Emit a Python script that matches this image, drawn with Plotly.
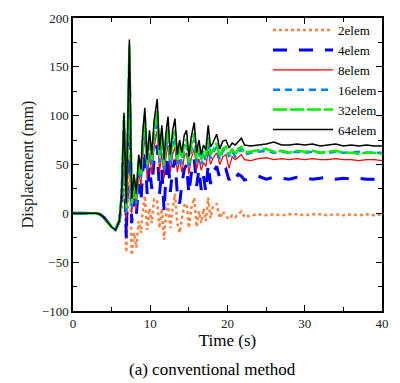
import plotly.graph_objects as go

time_s = [0, 1, 2, 3, 3.5, 4, 4.5, 5, 5.5, 6,
          6.3, 6.6, 6.9, 7.3, 7.6, 7.9,
          8.2, 8.5, 8.8, 9.0, 9.3, 9.6, 9.9,
          10.2, 10.5, 10.9, 11.2, 11.5, 11.8,
          12.0, 12.3, 12.6, 12.9, 13.2, 13.5, 13.8,
          14.1, 14.4, 14.7, 15.0, 15.3, 15.7,
          16.0, 16.3, 16.6, 16.9, 17.2, 17.5, 17.8,
          18.1, 18.6, 19.0, 19.4, 19.8,
          20.2, 20.6, 21.0, 21.4, 21.8, 22.2,
          23, 24, 25, 26, 27, 28, 29, 30, 31, 32, 33, 34, 35, 36, 37, 38, 39, 40]

start = [0, 0, 0, 0, -1, -4, -9, -14, -17, -8]

elem2 = start + [5, 40, -40, 60, -43, -20,
                 -35, -8, -20, 0, 18, -17, 5,
                 -10, 15, 12, -15, 5, -27,
                 -5, 10, -15, 5, 20, -10, -20,
                 -5, 8, 10, -15, 5, 16,
                 -14, 2, -10, 5, -8, 16, -5,
                 6, 10, -5, 2, -3,
                 -6, -2, -4, -1, 2, -4,
                 -2, -1, -2, -1, -2, -1, -1, -2, -1, -1, -2, -1, -2, -1, -2, -1, -2, -1]

elem4 = start + [12, 80, -25, 140, -10, 15,
                 -2, 30, 12, 40, 65, 20, 48,
                 25, 55, 70, 20, 45, 2,
                 35, 58, 22, 45, 55, 20, 10,
                 30, 45, 50, 20, 40, 55,
                 28, 45, 24, 38, 22, 50, 30,
                 42, 48, 36, 42, 45,
                 34, 40, 36, 40, 38, 34,
                 36, 38, 35, 37, 36, 35, 37, 36, 35, 36, 37, 35, 36, 35, 36, 35, 35, 36]

elem8 = start + [15, 90, -5, 150, 0, 25,
                 5, 42, 28, 55, 80, 35, 60,
                 40, 68, 85, 42, 62, 36,
                 56, 70, 42, 60, 68, 42, 55,
                 42, 58, 62, 40, 56, 66,
                 45, 56, 44, 52, 48, 64, 50,
                 56, 62, 50, 58, 60,
                 46, 58, 55, 58, 60, 55,
                 54, 56, 57, 55, 56, 55, 56, 55, 56, 55, 55, 56, 55, 55, 54, 55, 55, 54]

elem16 = start + [18, 95, 0, 160, 5, 30,
                  10, 50, 35, 65, 92, 45, 70,
                  50, 78, 96, 52, 72, 45,
                  66, 80, 50, 70, 78, 50, 64,
                  50, 66, 70, 48, 64, 76,
                  52, 63, 50, 60, 54, 72, 56,
                  62, 68, 55, 64, 66,
                  58, 64, 58, 62, 66, 60,
                  62, 63, 64, 62, 63, 62, 63, 62, 63, 62, 62, 63, 62, 62, 63, 62, 62, 62]

elem32 = start + [20, 100, 5, 172, 10, 35,
                  15, 55, 40, 72, 100, 50, 78,
                  55, 85, 105, 58, 80, 50,
                  72, 88, 55, 76, 85, 55, 70,
                  56, 72, 76, 52, 70, 82,
                  56, 68, 55, 64, 58, 78, 60,
                  65, 72, 58, 66, 68,
                  60, 66, 60, 66, 68, 62,
                  63, 64, 66, 63, 64, 62, 64, 63, 64, 62, 63, 64, 62, 62, 61, 62, 62, 61]

elem64 = start + [20, 103, 10, 178, 15, 40,
                  20, 60, 45, 80, 108, 55, 85,
                  60, 95, 117, 65, 90, 55,
                  80, 99, 60, 85, 97, 60, 75,
                  62, 80, 85, 58, 78, 93,
                  62, 75, 60, 70, 65, 90, 68,
                  72, 81, 66, 74, 75,
                  67, 72, 70, 74, 77, 70,
                  69, 70, 71, 73, 70, 70, 71, 70, 71, 69, 70, 71, 69, 70, 69, 70, 69, 69]

series_names = ["2elem", "4elem", "8elem", "16elem", "32elem", "64elem"]
series_values = [elem2, elem4, elem8, elem16, elem32, elem64]
styles = [
    dict(color="#ff8040", width=2.5, dash="3px,3px"),
    dict(color="#0000ff", width=3, dash="14px,12px"),
    dict(color="#ff0000", width=1.2),
    dict(color="#0080ff", width=2.5, dash="7px,5px"),
    dict(color="#00ee00", width=2.5, dash="14px,3px"),
    dict(color="#000000", width=1.5),
]

fig = go.Figure()
for name, vals, st in zip(series_names, series_values, styles):
    fig.add_trace(go.Scatter(x=time_s, y=vals, mode="lines", name=name, line=st))

serif = "Liberation Serif, Times New Roman, serif"
axis_common = dict(
    showline=True, linecolor="black", linewidth=1.5, mirror="ticks",
    ticks="inside", ticklen=6, tickwidth=1.3, tickcolor="black",
    showgrid=False, zeroline=False,
    tickfont=dict(family=serif, size=13, color="#222"),
)
fig.update_xaxes(range=[0, 40], tickvals=[0, 10, 20, 30, 40], **axis_common,
                 minor=dict(ticks="inside", ticklen=4, tickwidth=1.2, tickcolor="black", dtick=5),
                 title=dict(text="Time (s)", font=dict(family=serif, size=17, color="black"), standoff=4))
fig.update_yaxes(range=[-100, 200], tickvals=[-100, -50, 0, 50, 100, 150, 200], **axis_common,
                 minor=dict(ticks="inside", ticklen=4, tickwidth=1.2, tickcolor="black", dtick=25),
                 title=dict(text="Displacement (mm)", font=dict(family=serif, size=16, color="#222"), standoff=4))

fig.add_annotation(text="(a) conventional method", xref="paper", yref="paper",
                   x=0.45, y=-0.16, xanchor="center", yanchor="top", showarrow=False,
                   font=dict(family=serif, size=17, color="black"))

fig.update_layout(
    width=400, height=383,
    margin=dict(l=73, r=11, t=15, b=72),
    paper_bgcolor="white", plot_bgcolor="white",
    showlegend=True,
    legend=dict(x=1.0, y=1.01, xanchor="right", yanchor="top",
                bgcolor="rgba(0,0,0,0)", font=dict(family=serif, size=13, color="black"),
                itemwidth=60, tracegroupgap=0),
)

fig.write_html("out.html")
